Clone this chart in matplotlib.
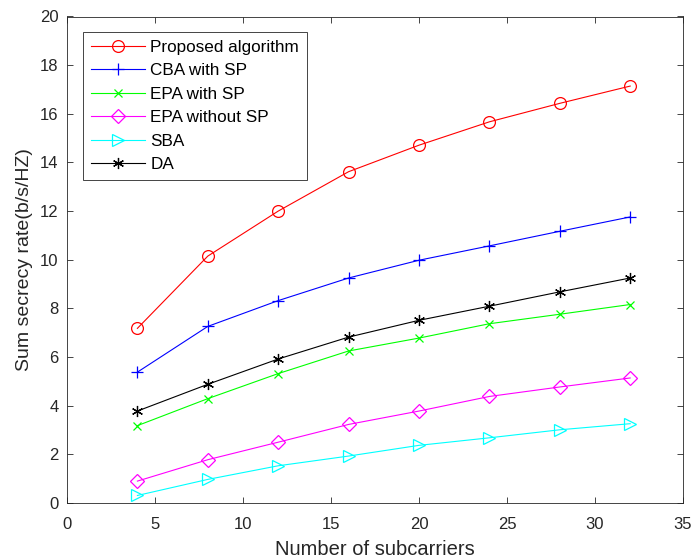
import matplotlib
matplotlib.use("Agg")
import matplotlib.pyplot as plt

plt.rcParams['font.family'] = ['Liberation Sans', 'DejaVu Sans']

subcarriers = [4, 8, 12, 16, 20, 24, 28, 32]
proposed = [7.18, 10.15, 12.0, 13.62, 14.71, 15.67, 16.43, 17.14]
cba_sp = [5.38, 7.26, 8.32, 9.25, 9.98, 10.57, 11.17, 11.76]
epa_sp = [3.18, 4.29, 5.32, 6.25, 6.78, 7.37, 7.76, 8.16]
epa_nosp = [0.90, 1.78, 2.50, 3.23, 3.78, 4.38, 4.77, 5.14]
sba = [0.31, 0.97, 1.53, 1.93, 2.37, 2.68, 3.01, 3.26]
da = [3.78, 4.88, 5.92, 6.82, 7.51, 8.09, 8.68, 9.25]

labels = ['Proposed algorithm', 'CBA with SP', 'EPA with SP', 'EPA without SP', 'SBA', 'DA']
xticks = [0, 5, 10, 15, 20, 25, 30, 35]
yticks = [0, 2, 4, 6, 8, 10, 12, 14, 16, 18, 20]

fig = plt.figure(figsize=(6.94, 5.6), dpi=100)
ax = fig.add_axes([67/694, 1-503/560, (683-67)/694, (503-16.5)/560])

ax.plot(subcarriers, proposed, color='#ff0000', marker='o', ms=8.5, mfc='none', mew=0.9, lw=0.8, label=labels[0])
ax.plot(subcarriers, cba_sp, color='#0000ff', marker='+', ms=9, mew=0.9, lw=0.8, label=labels[1])
ax.plot(subcarriers, epa_sp, color='#00ff00', marker='x', ms=6, mew=0.9, lw=0.8, label=labels[2])
ax.plot(subcarriers, epa_nosp, color='#ff00ff', marker='D', ms=7, mfc='none', mew=0.9, lw=0.8, label=labels[3])
ax.plot(subcarriers, sba, color='#00ffff', marker='>', ms=8.5, mfc='none', mew=0.9, lw=0.8, label=labels[4])
ax.plot(subcarriers, da, color='#000000', marker=(6, 2, 0), ms=8, mew=0.9, lw=0.8, label=labels[5])

ax.set_xlim(0, 35)
ax.set_ylim(0, 20)
ax.set_xticks(xticks)
ax.set_yticks(yticks)
ax.tick_params(direction='in', top=True, right=True, labelsize=12, length=4, width=0.6,
               colors='#262626')
ax.tick_params(axis='x', pad=10)
ax.tick_params(axis='y', pad=6)
for s in ax.spines.values():
    s.set_linewidth(0.6)
    s.set_color('#262626')

ax.set_xlabel('Number of subcarriers', fontsize=14.5, color='#262626', labelpad=6)
ax.set_ylabel('Sum secrecy rate(b/s/HZ)', fontsize=14, color='#262626', labelpad=5)

leg = ax.legend(loc='upper left', bbox_to_anchor=(0.026, 0.968), borderaxespad=0,
                fontsize=12.3, fancybox=False, edgecolor='#262626', framealpha=1,
                handlelength=3.2, handletextpad=0.3, borderpad=0.45, labelspacing=0.5)
leg.get_frame().set_linewidth(0.6)

fig.savefig('out.png', dpi=100)
